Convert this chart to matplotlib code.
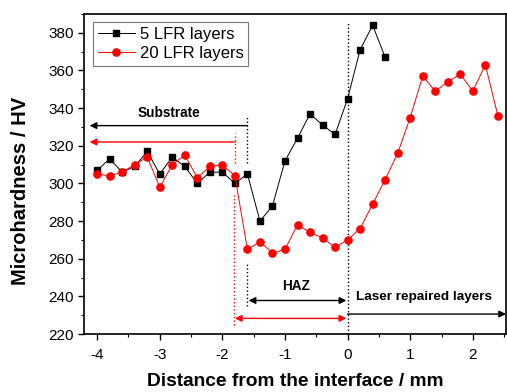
import matplotlib
matplotlib.use("Agg")
import matplotlib.pyplot as plt
from matplotlib.ticker import MultipleLocator

plt.rcParams['font.family'] = ['Liberation Sans', 'DejaVu Sans']
plt.rcParams['axes.unicode_minus'] = False

x5 = [-4.0, -3.8, -3.6, -3.4, -3.2, -3.0, -2.8, -2.6, -2.4, -2.2, -2.0, -1.8, -1.6,
      -1.4, -1.2, -1.0, -0.8, -0.6, -0.4, -0.2, 0.0, 0.2, 0.4, 0.6]
y5 = [307, 313, 306, 309, 317, 305, 314, 309, 300, 306, 306, 300, 305,
      280, 288, 312, 324, 337, 331, 326, 345, 371, 384, 367]

x20 = [-4.0, -3.8, -3.6, -3.4, -3.2, -3.0, -2.8, -2.6, -2.4, -2.2, -2.0, -1.8, -1.6,
       -1.4, -1.2, -1.0, -0.8, -0.6, -0.4, -0.2, 0.0, 0.2, 0.4, 0.6, 0.8,
       1.0, 1.2, 1.4, 1.6, 1.8, 2.0, 2.2, 2.4]
y20 = [305, 304, 306, 310, 314, 298, 310, 315, 303, 309, 310, 304, 265,
       269, 263, 265, 278, 274, 271, 266, 270, 276, 289, 302, 316,
       335, 357, 349, 354, 358, 349, 363, 336]

labels = ["5 LFR layers", "20 LFR layers"]
xticks = [-4, -3, -2, -1, 0, 1, 2]
yticks = [220, 240, 260, 280, 300, 320, 340, 360, 380]

fig = plt.figure(figsize=(5.07, 3.92), dpi=100)
ax = fig.add_axes([84/507, 1-334/392, (506-84)/507, (334-14)/392])

ax.plot(x5, y5, '-', color='black', lw=0.7, marker='s', ms=4.5, mfc='black', mec='black', label=labels[0], zorder=3)
ax.plot(x20, y20, '-', color='red', lw=0.7, marker='o', ms=5.2, mfc='red', mec='red', label=labels[1], zorder=4)

# vertical dotted guide lines
ax.plot([0, 0], [220, 385.5], ls=':', color='black', lw=1.0)
ax.plot([-1.6, -1.6], [311, 336], ls=':', color='black', lw=1.0)
ax.plot([-1.6, -1.6], [235, 258], ls=':', color='black', lw=1.0)
ax.plot([-1.8, -1.8], [311, 327], ls=':', color='red', lw=1.0)
ax.plot([-1.82, -1.82], [225, 294], ls=':', color='red', lw=1.0)

arr = dict(arrowstyle='-|>', lw=1.0, mutation_scale=10, shrinkA=0, shrinkB=0)
# Substrate arrows
ax.annotate('', xy=(-4.12, 330.7), xytext=(-1.6, 330.7), arrowprops=dict(arr, color='black'))
ax.annotate('', xy=(-4.12, 322), xytext=(-1.8, 322), arrowprops=dict(arr, color='red'))
ax.text(-2.85, 333.5, 'Substrate', fontsize=9.8, fontweight='bold', ha='center', va='bottom')

# HAZ arrows
arr2 = dict(arrowstyle='<|-|>', lw=1.0, mutation_scale=10, shrinkA=0, shrinkB=0)
ax.annotate('', xy=(-1.58, 237.8), xytext=(-0.02, 237.8), arrowprops=dict(arr2, color='black'))
ax.annotate('', xy=(-1.8, 228.3), xytext=(-0.02, 228.3), arrowprops=dict(arr2, color='red'))
ax.text(-0.83, 242, 'HAZ', fontsize=9.8, fontweight='bold', ha='center', va='bottom')

# Laser repaired layers arrow
ax.annotate('', xy=(2.53, 230.6), xytext=(0.0, 230.6), arrowprops=dict(arr, color='black'))
ax.text(0.14, 236.5, 'Laser repaired layers', fontsize=9.7, fontweight='bold', ha='left', va='bottom')

ax.set_xlim(-4.21, 2.53)
ax.set_ylim(220, 390)
ax.set_xticks(xticks)
ax.set_yticks(yticks)
ax.xaxis.set_minor_locator(MultipleLocator(0.5))
ax.yaxis.set_minor_locator(MultipleLocator(10))
ax.tick_params(which='major', direction='out', length=4, width=1.0, labelsize=11)
ax.tick_params(axis='x', which='major', pad=6)
ax.tick_params(axis='y', which='major', pad=3.3)
ax.tick_params(which='minor', direction='out', length=2.2, width=0.8)
for s in ax.spines.values():
    s.set_linewidth(1.2)

ax.set_xlabel('Distance from the interface / mm', fontsize=13.8, fontweight='bold')
ax.set_ylabel('Microhardness / HV', fontsize=14.5, fontweight='bold')
ax.xaxis.set_label_coords(0.5, (334-373)/320)
ax.yaxis.set_label_coords((30-84)/422, (334-191)/320)

leg = ax.legend(loc='upper left', bbox_to_anchor=(0.021, 0.975), fontsize=12, frameon=True,
                fancybox=False, edgecolor='#555555', handlelength=2.2, borderpad=0.3,
                labelspacing=0.22, handletextpad=0.3, borderaxespad=0)
leg.get_frame().set_linewidth(0.8)

fig.savefig('out.png', dpi=100)
